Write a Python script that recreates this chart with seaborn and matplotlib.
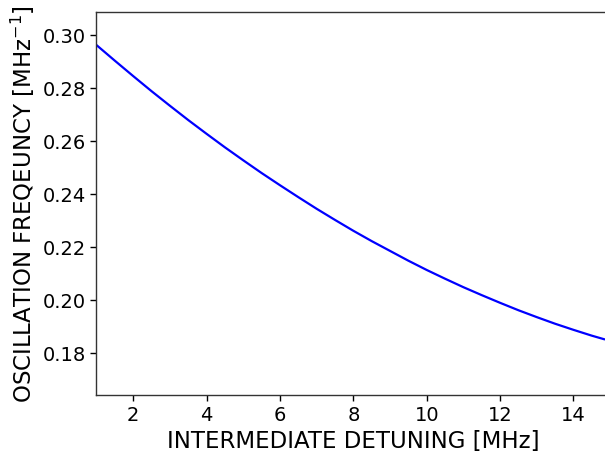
import matplotlib
matplotlib.use("Agg")
import matplotlib.pyplot as plt
import seaborn as sns
import pandas as pd

# Intermediate detuning (MHz) and the resulting oscillation frequency
detuning = [1.0, 1.5, 2.0, 2.5, 3.0, 3.5, 4.0, 4.5, 5.0, 5.5, 6.0, 6.5, 7.0, 7.5,
            8.0, 8.5, 9.0, 9.5, 10.0, 10.5, 11.0, 11.5, 12.0, 12.5, 13.0, 13.5,
            14.0, 14.5, 14.85]
frequency = [0.2961, 0.2902, 0.2844, 0.2787, 0.2732, 0.2678, 0.2626, 0.2575,
             0.2526, 0.2478, 0.2432, 0.2387, 0.2343, 0.2301, 0.2260, 0.2221,
             0.2184, 0.2147, 0.2112, 0.2079, 0.2047, 0.2017, 0.1988, 0.1960,
             0.1934, 0.1909, 0.1886, 0.1864, 0.1850]

x_ticks = [2, 4, 6, 8, 10, 12, 14]
y_ticks = [0.18, 0.20, 0.22, 0.24, 0.26, 0.28, 0.30]

df = pd.DataFrame({"detuning": detuning, "frequency": frequency})

sns.set_style("ticks")
plt.rcParams["font.family"] = ["DejaVu Sans"]
plt.rcParams["text.color"] = "black"
plt.rcParams["axes.labelcolor"] = "black"
plt.rcParams["xtick.color"] = "black"
plt.rcParams["ytick.color"] = "black"

fig = plt.figure(figsize=(6.05, 4.52), dpi=100)
ax = fig.add_axes([0.1595, 0.1239, 1.0085 - 0.1595, 0.9719 - 0.1239])

sns.lineplot(data=df, x="detuning", y="frequency", ax=ax, color="blue",
             linewidth=1.6)

ax.set_xlim(1, 15)
ax.set_ylim(0.1640, 0.3087)
ax.set_xticks(x_ticks)
ax.set_yticks(y_ticks)
ax.set_yticklabels([f"{v:.2f}" for v in y_ticks])
ax.tick_params(axis="both", labelsize=14, length=4, width=1, colors="black")
for s in ax.spines.values():
    s.set_color("#333333")
    s.set_linewidth(1.0)

ax.set_xlabel("INTERMEDIATE DETUNING [MHz]", fontsize=16.5, labelpad=3)
ax.set_ylabel("OSCILLATION FREQEUNCY [MHz$^{-1}$]", fontsize=16.5, labelpad=4)

fig.savefig("out.png", dpi=100)
